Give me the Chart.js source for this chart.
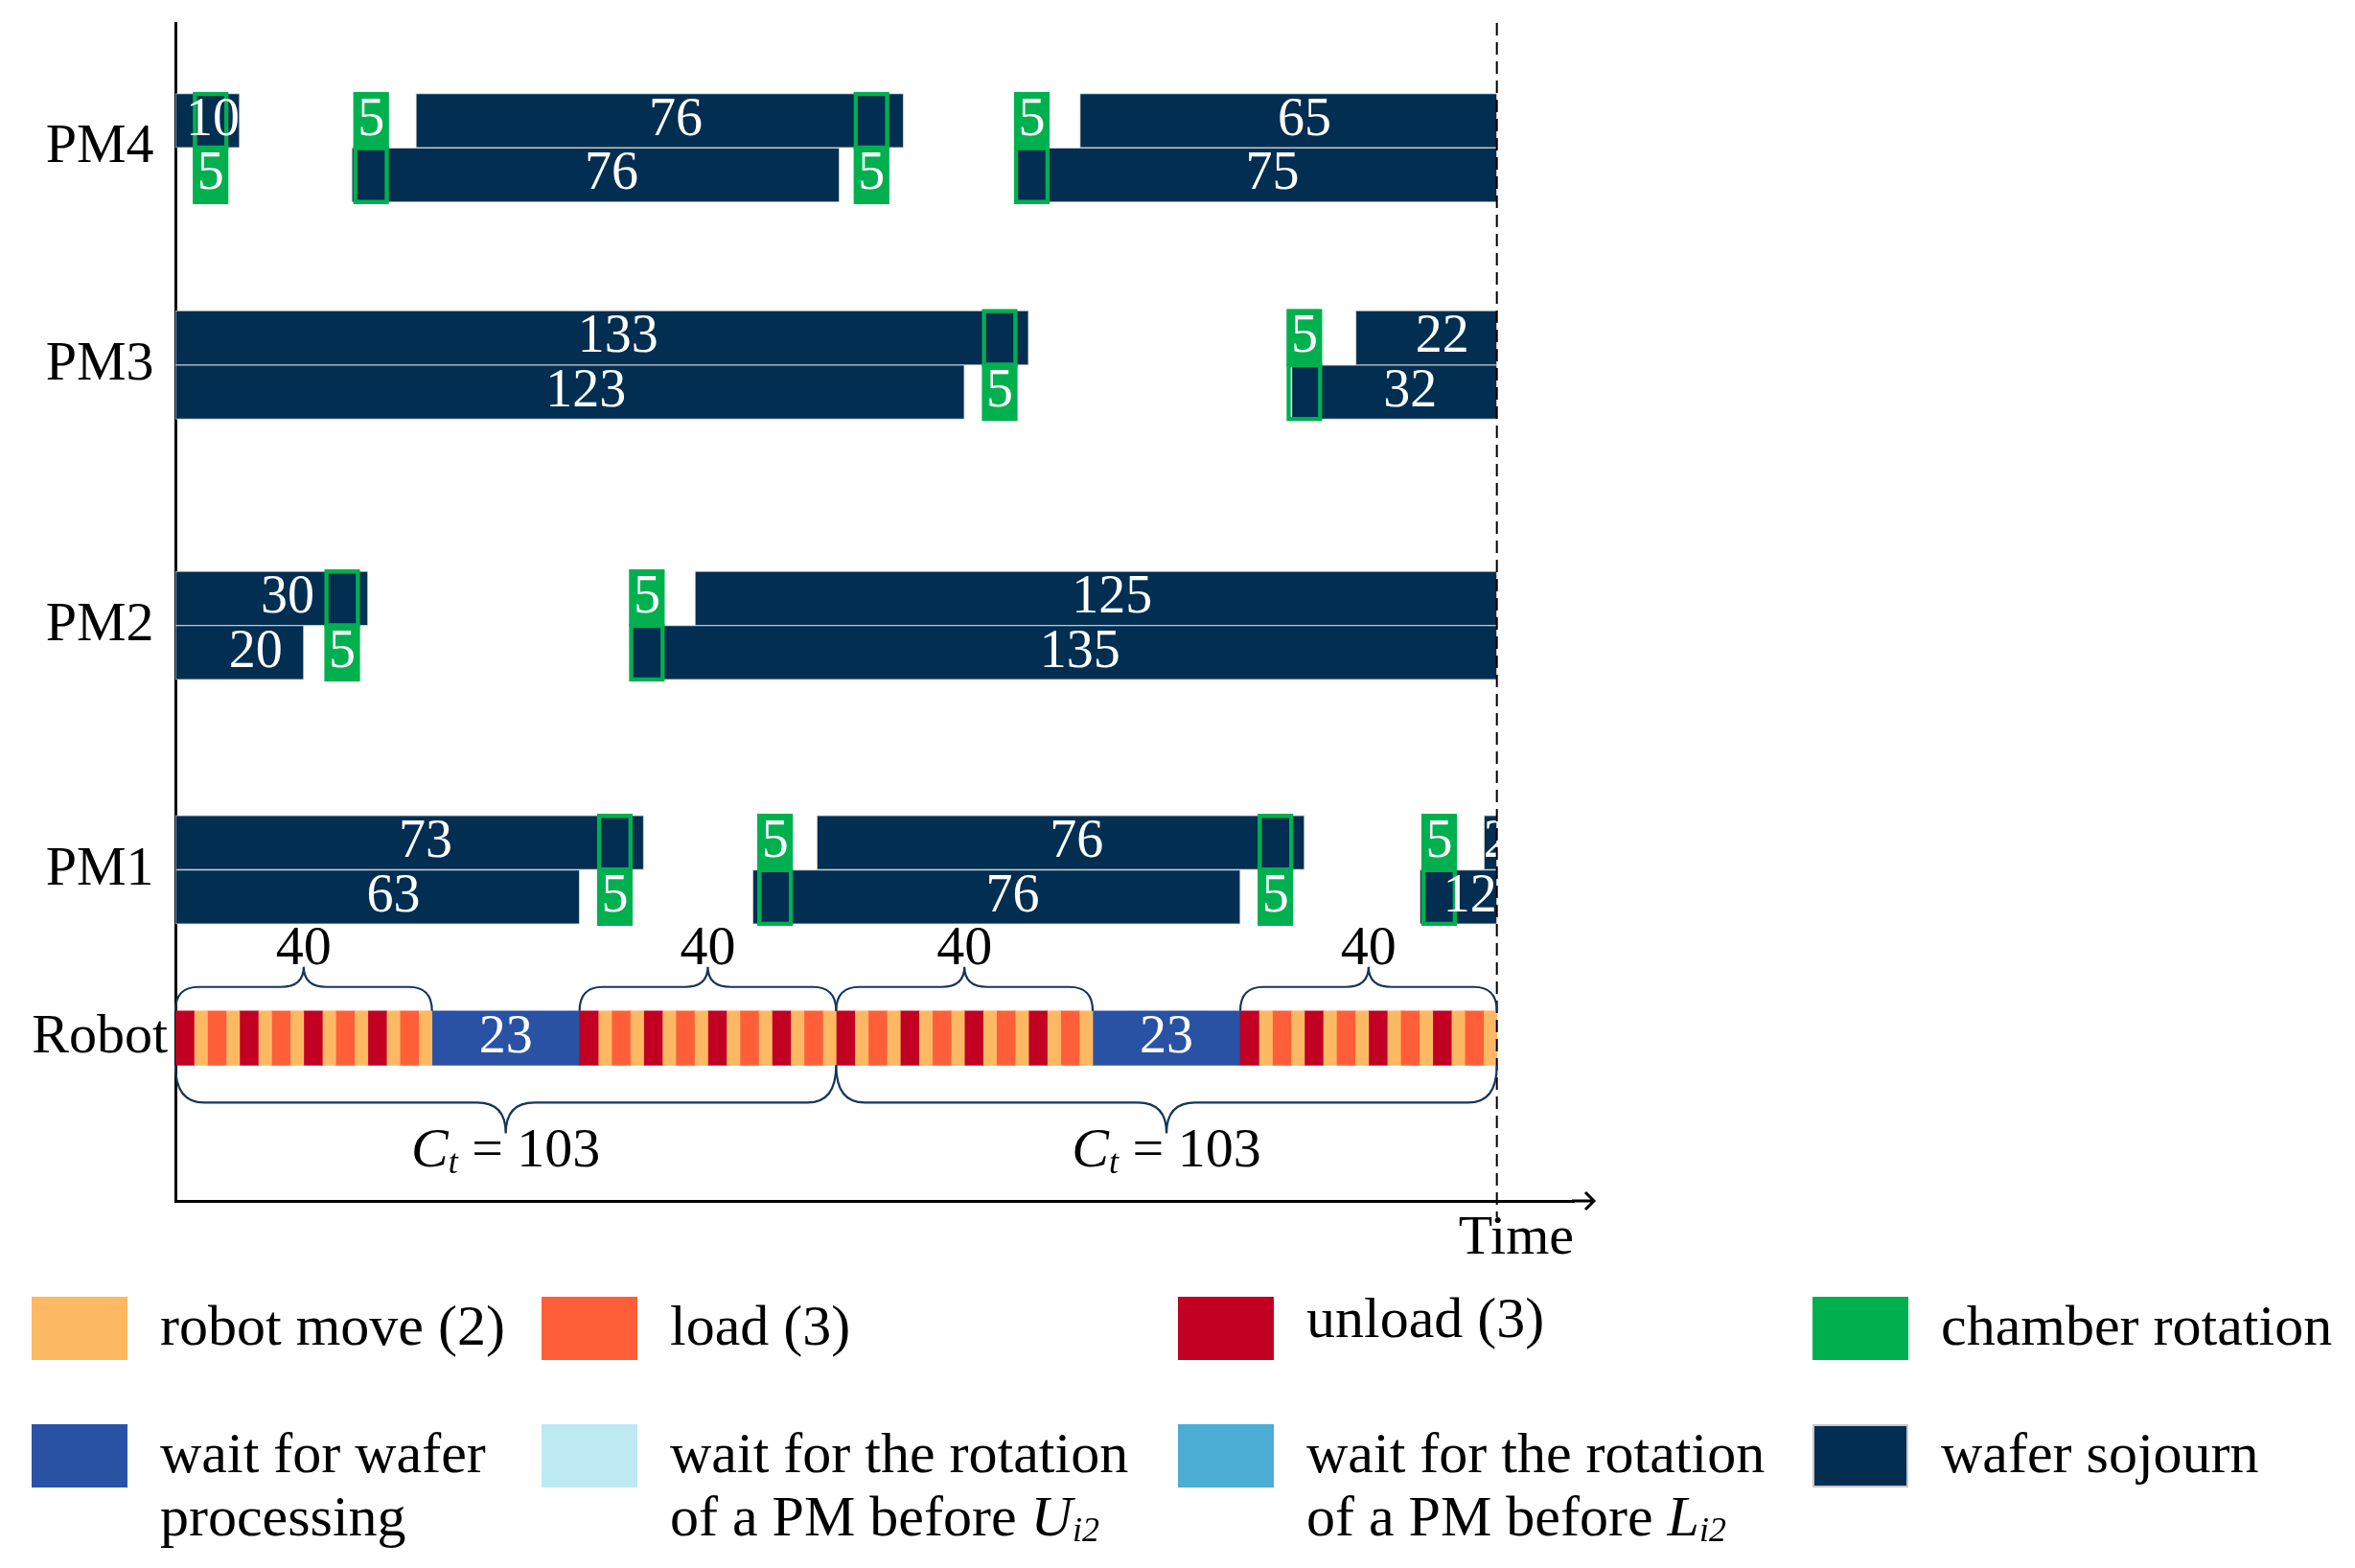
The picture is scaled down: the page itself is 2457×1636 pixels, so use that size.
<!DOCTYPE html>
<html>
<head>
<meta charset="utf-8">
<title>Robot and PM schedule</title>
<script src="https://cdn.jsdelivr.net/npm/chart.js"></script>
<style>
  body { margin: 0; background: #fff; overflow: hidden; }
  #wrap { position: relative; width: 2457px; height: 1636px; font-family: "Liberation Serif", serif; }
  #wrap canvas { position: absolute; left: 0; top: 0; }
  .sw { position: absolute; width: 100px; height: 66px; box-sizing: border-box; }
  .lg { position: absolute; font-size: 60px; line-height: 66px; color: #000; white-space: nowrap; }
  .lg sub { font-size: 36px; vertical-align: baseline; position: relative; top: 6px; }
</style>
</head>
<body>
<div id="wrap">
  <canvas id="gantt" width="2457" height="1636"></canvas>
</div>
<script>
// ---- values (time units) ----
const horizon = 206;      // two cycles shown
const cycleTime = 103;
const rotTime = 5;        // chamber rotation
const rows = ['PM4', 'PM3', 'PM2', 'PM1', 'Robot'];
const rowPos = [2.3, 6.3, 11.1, 15.6, 18.7];

// wafer sojourn bars [start, end], upper and lower slot of every PM
const pm4Up = [[0, 10], [37.5, 113.5], [141, 206]];
const pm4Low = [[27.5, 103.5], [131, 206]];
const pm3Up = [[0, 133], [184, 206]];
const pm3Low = [[0, 123], [174, 206]];
const pm2Up = [[0, 30], [81, 206]];
const pm2Low = [[0, 20], [71, 206]];
const pm1Up = [[0, 73], [100, 176], [204, 206]];
const pm1Low = [[0, 63], [90, 166], [194, 206]];

// chamber rotation starts, and the slot that is empty (drawn filled) meanwhile
const pm4Rot = [3, 28, 106, 131];
const pm4RotEmpty = ['low', 'up', 'low', 'up'];
const pm3Rot = [126, 173.5];
const pm3RotEmpty = ['low', 'up'];
const pm2Rot = [23.5, 71];
const pm2RotEmpty = ['low', 'up'];
const pm1Rot = [66, 91, 169, 194.5];
const pm1RotEmpty = ['low', 'up', 'low', 'up'];

// robot
const opTime = { unload: 3, move: 2, load: 3 };
const robotBlock = ['unload', 'move', 'load', 'move', 'unload', 'move', 'load', 'move',
                    'unload', 'move', 'load', 'move', 'unload', 'move', 'load', 'move'];
const robotBlockStart = [0, 63, 103, 166];
const robotWait = [[40, 63], [143, 166]];
const brace40 = [[0, 40], [63, 103], [103, 143], [166, 206]];
const braceCycle = [[0, 103], [103, 206]];

const legendLabels = ['robot move (2)', 'load (3)', 'unload (3)', 'chamber rotation',
  'wait for wafer<br>processing', 'wait for the rotation<br>of a PM before <i>U<sub>i2</sub></i>',
  'wait for the rotation<br>of a PM before <i>L<sub>i2</sub></i>', 'wafer sojourn'];

const C = {
  move: '#fdb863', load: '#ff5f38', unload: '#c10023', rot: '#00b04f', wait: '#2a52a4',
  waitU: '#bde9f2', waitL: '#4bacd4', sojourn: '#022e51', edge: '#c8c8c8', brace: '#15365a'
};
const legendColors = [C.move, C.load, C.unload, C.rot, C.wait, C.waitU, C.waitL, C.sojourn];

// ---- build the bar data ----
const sojourn = [], rotFill = [], rotLine = [];
[[0, pm4Up, pm4Low, pm4Rot, pm4RotEmpty],
 [1, pm3Up, pm3Low, pm3Rot, pm3RotEmpty],
 [2, pm2Up, pm2Low, pm2Rot, pm2RotEmpty],
 [3, pm1Up, pm1Low, pm1Rot, pm1RotEmpty]].forEach(([r, up, low, rot, empty]) => {
  const upY = rowPos[r] - 0.5, lowY = rowPos[r] + 0.5;
  up.forEach(b => sojourn.push({ x: b, y: upY }));
  low.forEach(b => sojourn.push({ x: b, y: lowY }));
  rot.forEach((s, i) => {
    rotFill.push({ x: [s, s + rotTime], y: empty[i] === 'up' ? upY : lowY });
    rotLine.push({ x: [s, s + rotTime], y: empty[i] === 'up' ? lowY : upY });
  });
});

const robotY = rowPos[4];
const robotOps = { move: [], load: [], unload: [] };
robotBlockStart.forEach(t0 => {
  let t = t0;
  robotBlock.forEach(op => {
    robotOps[op].push({ x: [t, t + opTime[op]], y: robotY });
    t += opTime[op];
  });
});
const waitBars = robotWait.map(b => ({ x: b, y: robotY }));

// ---- plugins ----
const barText = {
  id: 'barText',
  afterDatasetsDraw(chart) {
    const { ctx, chartArea: a, scales: { x, y } } = chart;
    const limit = x.getPixelForValue(horizon);
    ctx.save();
    ctx.beginPath();
    ctx.rect(a.left, a.top, limit - a.left, a.bottom - a.top);
    ctx.clip();
    ctx.font = '56px "Liberation Serif"';
    ctx.fillStyle = '#fff';
    ctx.textAlign = 'center';
    ctx.textBaseline = 'middle';
    chart.data.datasets.forEach(ds => {
      if (!ds.valueLabels) return;
      ds.data.forEach(d => {
        const [s, e] = d.x;
        const txt = String(e - s);
        const half = ctx.measureText(txt).width / 2;
        const x0 = x.getPixelForValue(s), x1 = x.getPixelForValue(e);
        let cx = x.getPixelForValue((s + e) / 2 + (ds.labelShift || 0));
        if (x1 - x0 < 2 * half) cx = x1;
        else cx = Math.min(Math.max(cx, x0 + half), x1 - half);
        ctx.fillText(txt, cx, y.getPixelForValue(d.y));
      });
    });
    ctx.restore();
  }
};

function brace(ctx, x0, x1, yb, dir, h1, h2, r) {
  const xm = (x0 + x1) / 2, yh = yb + dir * h1, yt = yh + dir * h2;
  ctx.beginPath();
  ctx.moveTo(x0, yb);
  ctx.quadraticCurveTo(x0, yh, x0 + r, yh);
  ctx.lineTo(xm - r, yh);
  ctx.quadraticCurveTo(xm, yh, xm, yt);
  ctx.quadraticCurveTo(xm, yh, xm + r, yh);
  ctx.lineTo(x1 - r, yh);
  ctx.quadraticCurveTo(x1, yh, x1, yb);
  ctx.stroke();
}

const notes = {
  id: 'notes',
  afterDraw(chart) {
    const { ctx, chartArea: a, scales: { x, y } } = chart;
    const half = (y.getPixelForValue(1) - y.getPixelForValue(0)) / 2;
    const top = y.getPixelForValue(robotY) - half;
    const bot = y.getPixelForValue(robotY) + half;
    ctx.save();

    // end of the second cycle
    const xe = x.getPixelForValue(horizon);
    ctx.strokeStyle = '#000';
    ctx.lineWidth = 2;
    ctx.setLineDash([13, 7]);
    ctx.beginPath();
    ctx.moveTo(xe, a.top);
    ctx.lineTo(xe, a.bottom + 17);
    ctx.stroke();
    ctx.setLineDash([]);

    // arrow on the time axis
    ctx.lineWidth = 3;
    ctx.beginPath();
    ctx.moveTo(a.right - 2, a.bottom);
    ctx.lineTo(a.right + 21, a.bottom);
    ctx.moveTo(a.right + 12, a.bottom - 9);
    ctx.lineTo(a.right + 21, a.bottom);
    ctx.lineTo(a.right + 12, a.bottom + 9);
    ctx.stroke();

    // braces
    ctx.strokeStyle = C.brace;
    ctx.lineWidth = 2.2;
    ctx.fillStyle = '#000';
    ctx.textAlign = 'center';
    ctx.textBaseline = 'alphabetic';
    ctx.font = '58px "Liberation Serif"';
    brace40.forEach(([s, e]) => {
      const x0 = x.getPixelForValue(s), x1 = x.getPixelForValue(e);
      brace(ctx, x0, x1, top, -1, 25, 21, 24);
      ctx.fillText(String(e - s), (x0 + x1) / 2, top - 49);
    });
    braceCycle.forEach(([s, e]) => {
      const x0 = x.getPixelForValue(s), x1 = x.getPixelForValue(e);
      brace(ctx, x0, x1, bot, 1, 39, 32, 30);
      drawCt(ctx, (x0 + x1) / 2, bot + 106);
    });
    ctx.restore();
  }
};

function drawCt(ctx, cx, base) {
  const parts = [
    ['italic 58px "Liberation Serif"', 'C', 0],
    ['italic 36px "Liberation Serif"', 't', 7],
    ['58px "Liberation Serif"', ' = ' + cycleTime, 0]
  ];
  let w = 0;
  parts.forEach(p => { ctx.font = p[0]; w += ctx.measureText(p[1]).width; });
  let xx = cx - w / 2;
  ctx.textAlign = 'left';
  parts.forEach(p => {
    ctx.font = p[0];
    ctx.fillText(p[1], xx, base + p[2]);
    xx += ctx.measureText(p[1]).width;
  });
  ctx.textAlign = 'center';
}

// ---- chart ----
Chart.defaults.font.family = '"Liberation Serif", serif';
Chart.defaults.color = '#000';

const bar = { grouped: false, categoryPercentage: 1, barPercentage: 1, borderSkipped: false, borderWidth: 0 };

new Chart(document.getElementById('gantt'), {
  type: 'bar',
  data: {
    datasets: [
      { ...bar, label: 'chamber rotation', data: rotFill, backgroundColor: C.rot, borderColor: C.rot,
        borderWidth: 0.5, inflateAmount: 2, order: 0, valueLabels: true },
      { ...bar, label: 'chamber rotation (slot occupied)', data: rotLine, backgroundColor: 'rgba(0,0,0,0)',
        borderColor: C.rot, borderWidth: 0.5, inflateAmount: 2, order: 0 },
      { ...bar, label: 'wafer sojourn', data: sojourn, backgroundColor: C.sojourn, borderColor: C.edge,
        borderWidth: 1, order: 1, valueLabels: true, labelShift: 2.5 },
      { ...bar, label: 'robot move (2)', data: robotOps.move, backgroundColor: C.move, order: 1 },
      { ...bar, label: 'load (3)', data: robotOps.load, backgroundColor: C.load, order: 1 },
      { ...bar, label: 'unload (3)', data: robotOps.unload, backgroundColor: C.unload, order: 1 },
      { ...bar, label: 'wait for wafer processing', data: waitBars, backgroundColor: C.wait, order: 1, valueLabels: true }
    ]
  },
  options: {
    indexAxis: 'y',
    responsive: false,
    animation: false,
    events: [],
    layout: { padding: { top: 24, right: 815, bottom: 308, left: 0 } },
    plugins: { legend: { display: false }, tooltip: { enabled: false } },
    scales: {
      y: {
        type: 'linear',
        position: 'left',
        reverse: true,
        offset: false,
        min: 0,
        max: 21.7,
        grid: { display: false, drawTicks: false, offset: false },
        border: { display: true, color: '#000', width: 3 },
        afterBuildTicks: s => { s.ticks = rowPos.map(v => ({ value: v })); },
        afterFit: s => {
          s.width = 183;
          s.paddingTop = 0;
          s.paddingBottom = 0;
        },
        ticks: {
          autoSkip: false,
          crossAlign: 'center',
          padding: 8,
          font: { size: 58 },
          color: '#000',
          callback: (v, i) => rows[i]
        }
      },
      x: {
        type: 'linear',
        position: 'bottom',
        offset: false,
        min: 0,
        max: 218,
        grid: { display: false, drawTicks: false },
        border: { display: true, color: '#000', width: 3 },
        ticks: { display: false },
        afterFit: s => {
          s.height = 75;
          s.paddingLeft = 0;
          s.paddingRight = 0;
        },
        title: { display: true, text: 'Time', align: 'end', color: '#000',
                 font: { size: 58 }, padding: { top: 0, bottom: 0 } }
      }
    }
  },
  plugins: [barText, notes]
});

// ---- legend ----
const wrap = document.getElementById('wrap');
const colX = [33, 565, 1229, 1891];
const rowTop = [1353, 1486];
legendLabels.forEach((txt, i) => {
  const cx = colX[i % 4], ty = rowTop[Math.floor(i / 4)];
  const sw = document.createElement('div');
  sw.className = 'sw';
  sw.style.left = cx + 'px';
  sw.style.top = ty + 'px';
  sw.style.background = legendColors[i];
  if (legendColors[i] === C.sojourn) sw.style.border = '2px solid ' + C.edge;
  wrap.appendChild(sw);
  const lb = document.createElement('div');
  lb.className = 'lg';
  lb.style.left = (cx + 134) + 'px';
  lb.style.top = (ty - 3 - (i === 2 ? 8 : 0)) + 'px';
  lb.innerHTML = txt;
  wrap.appendChild(lb);
});
</script>
</body>
</html>
